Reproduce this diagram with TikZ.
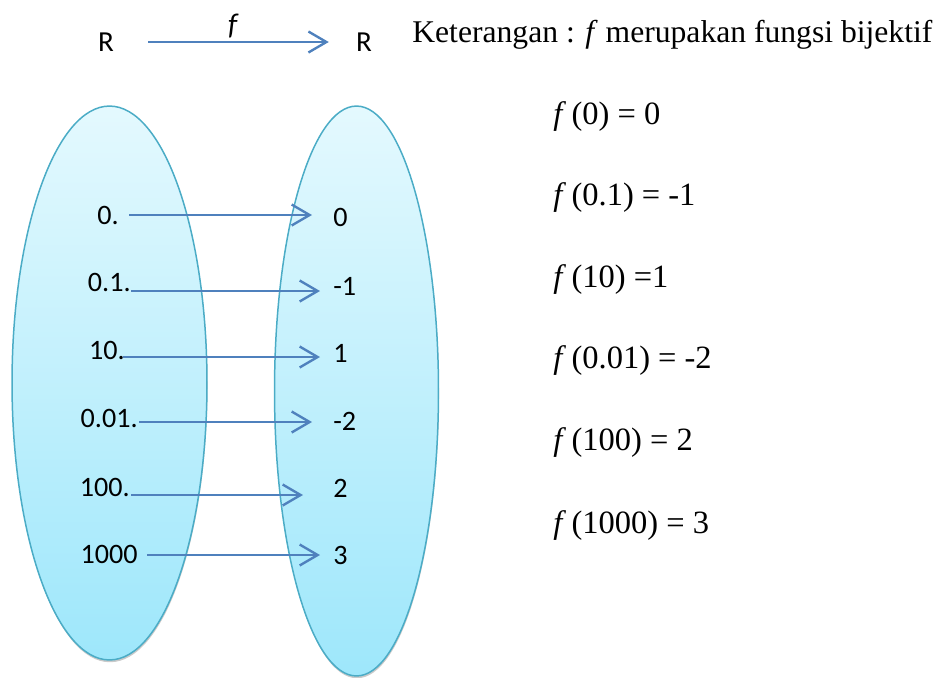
\documentclass[tikz,border=0pt]{standalone}
\usepackage{fontspec}
\setmainfont{Liberation Serif}
\newfontfamily\calib{Carlito}
\usetikzlibrary{arrows.meta, calc, shadows}

\definecolor{setline}{RGB}{75,172,198}
\definecolor{settop}{RGB}{228,249,254}
\definecolor{setbot}{RGB}{158,231,251}
\definecolor{maparrow}{RGB}{79,129,189}

\tikzset{
  setshape/.style={draw=setline, line width=0.85pt, top color=settop,
    bottom color=setbot,
    drop shadow={shadow xshift=0.3pt, shadow yshift=-1.3pt, opacity=0.35, fill=black!60}},
  elem/.style={inner sep=0pt, font=\calib\fontsize{16}{19}\selectfont},
  map/.style={draw=maparrow, line width=1.35pt,
    -{Straight Barb[length=3.6mm, width=4.2mm, line width=1.35pt]}},
  eqn/.style={inner sep=0pt, anchor=base west, font=\fontsize{18.5}{22}\selectfont},
}

\begin{document}
\begin{tikzpicture}[x=0.02cm, y=-0.02cm]
  \useasboundingbox (0,0) rectangle (943,677);

  % the two sets
  \draw[setshape] (109.5,383) ellipse [x radius=1.95cm, y radius=5.54cm];
  \draw[setshape] (356.5,391) ellipse [x radius=1.64cm, y radius=5.70cm];

  % f : R -> R
  \node[elem, font=\calib\fontsize{16.5}{19}\selectfont] (dom) at (106,42) {R};
  \node[elem, font=\calib\fontsize{16.5}{19}\selectfont] (cod) at (364,42) {R};
  \draw[map, shorten <=0.68cm, shorten >=0.54cm] (dom) -- (cod)
    node[pos=0.49, above=0.06cm, inner sep=0pt, font=\calib\itshape\fontsize{17}{20}\selectfont] (fname) {f};

  % elements and mapping
  \foreach \i/\a/\xa/\ya/\b/\yb/\dy/\sx/\ex in {
      1/0./119/215/0/217/0/10/21,
      2/0.1./131/282/-1/286/9/0/13,
      3/10./125/350/1/353/7/-2/13,
      4/0.01./138/418/-2/421/4/1/21,
      5/100./130/487/2/488/8/1/30,
      6/1000/138/554/3/555/1/9/13} {
    \node[elem, anchor=east] (d\i) at (\xa,\ya) {\a};
    \node[elem, anchor=west] (c\i) at (333,\yb) {\b};
    \draw[map] ($(d\i.east)+(\sx,\dy)$) -- ($(d\i.east -| c\i.west)+(-\ex,\dy)$);
  }

  % keterangan
  \node[eqn, font=\fontsize{18}{22}\selectfont] (ket) at (412,42)
    {Keterangan : \textit{f} merupakan fungsi bijektif};
  \foreach \j/\t/\yb in {1/{(0) = 0}/124, 2/{(0.1) = -1}/205, 3/{(10) =1}/287,
      4/{(0.01) = -2}/368, 5/{(100) = 2}/450, 6/{(1000) = 3}/533} {
    \node[eqn] (eq\j) at (553,\yb) {\textit{f}\,\t};
  }
\end{tikzpicture}
\end{document}
